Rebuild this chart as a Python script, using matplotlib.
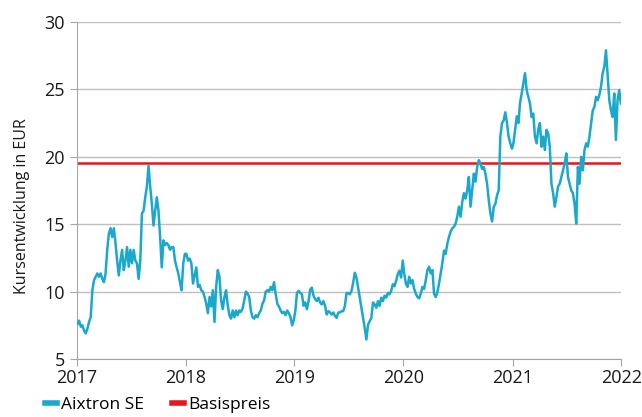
import matplotlib
matplotlib.use("Agg")
import matplotlib.pyplot as plt
import matplotlib.dates as mdates
import numpy as np
import pandas as pd

# Aixtron SE closing prices (EUR), evenly spaced within each year
kurs_2017 = [7.6, 7.85, 7.4, 7.5, 7.1, 6.9, 7.25, 7.75, 8.1, 10.1,
             10.85, 11.1, 11.35, 11.1, 11.35, 10.95, 10.7, 11.35, 13.1, 14.3,
             14.7, 14.05, 14.7, 13.6, 12.3, 11.2, 12.3, 13.1, 11.6, 12.3,
             13.3, 11.85, 13.1, 12.1, 13.1, 12.3, 12.1, 10.95, 12.3, 15.8,
             16.0, 17.0, 17.8, 19.35, 17.8, 16.5, 14.9, 16.0, 17.0, 16.0,
             14.05, 11.8, 13.8, 13.45, 13.6, 13.45, 13.1, 13.3, 13.3, 12.3,
             11.8, 11.35, 10.7, 10.1, 12.1, 12.8]
kurs_2018 = [12.8, 12.3, 12.45, 12.1, 10.6, 11.2, 11.8, 10.35, 10.5, 10.1,
             10.0, 9.6, 9.1, 8.4, 9.6, 8.9, 10.1, 7.75, 10.35, 11.6,
             11.1, 9.35, 8.7, 9.6, 10.1, 9.0, 8.25, 8.0, 8.6, 8.1,
             8.6, 8.25, 8.6, 8.5, 8.75, 9.35, 10.0, 9.85, 9.6, 8.6,
             8.1, 8.0, 8.25, 8.1, 8.4, 8.6, 9.1, 9.35, 10.0, 10.1,
             10.0, 10.35, 10.1, 10.7, 9.85, 9.1, 8.9, 8.6, 8.4, 8.5,
             8.25, 8.6, 8.4, 8.1, 7.5, 7.9]
kurs_2019 = [8.55, 9.9, 10.05, 9.9, 9.8, 8.95, 9.2, 8.7, 9.3, 10.15,
             10.3, 9.7, 9.45, 9.3, 9.55, 9.2, 9.05, 9.3, 8.95, 8.3,
             8.55, 8.45, 8.3, 8.45, 8.2, 8.05, 8.45, 8.45, 8.55, 8.55,
             8.95, 9.9, 9.9, 9.8, 10.05, 10.65, 11.4, 11.05, 10.3, 9.55,
             8.8, 8.05, 7.3, 6.45, 7.55, 7.8, 8.05, 9.2, 9.05, 8.8,
             9.3, 8.95, 9.55, 9.3, 9.7, 9.55, 9.9, 9.8, 10.05, 10.55,
             10.4, 10.8, 11.3, 11.55, 11.05, 12.3]
kurs_2020 = [11.35, 10.6, 10.35, 11.1, 10.6, 10.85, 10.2, 9.85, 9.6, 9.5,
             9.85, 10.35, 10.2, 10.85, 11.6, 11.85, 11.35, 11.6, 9.85, 9.6,
             9.95, 10.6, 11.35, 12.1, 13.05, 12.8, 13.55, 14.05, 14.45, 14.7,
             14.8, 15.05, 15.55, 16.3, 15.55, 16.65, 17.3, 16.9, 17.5, 18.5,
             16.3, 17.5, 18.75, 18.15, 19.25, 19.75, 19.5, 19.1, 19.25, 18.75,
             18.0, 16.8, 15.8, 15.2, 16.3, 16.5, 17.15, 17.5, 21.5, 22.5,
             22.7, 23.3, 22.5, 21.5, 21.0, 20.6]
kurs_2021 = [21.0, 22.0, 23.0, 22.5, 24.0, 24.7, 25.45, 26.2, 24.95, 24.45,
             23.95, 22.95, 23.2, 21.5, 21.0, 22.0, 22.5, 20.75, 21.5, 20.5,
             22.0, 21.75, 20.75, 18.0, 17.3, 16.3, 17.0, 17.8, 18.0, 18.5,
             19.0, 19.5, 20.25, 18.5, 18.0, 17.5, 17.3, 16.5, 15.05, 19.25,
             18.0, 20.0, 19.0, 20.5, 21.0, 20.75, 21.5, 22.5, 23.45, 23.7,
             24.45, 24.2, 24.6, 25.2, 26.2, 26.7, 27.9, 26.0, 24.2, 23.45,
             22.95, 24.7, 21.25, 24.2, 24.95, 23.95]
jahre = [2017, 2018, 2019, 2020, 2021]
basispreis = 19.55

kurse = [kurs_2017, kurs_2018, kurs_2019, kurs_2020, kurs_2021]
dates = []
values = []
for jahr, k in zip(jahre, kurse):
    dates.extend(pd.date_range(f"{jahr}-01-04", f"{jahr}-12-30", periods=len(k)))
    values.extend(k)

plt.rcParams['font.family'] = ['Open Sans', 'DejaVu Sans']

fig = plt.figure(figsize=(6.42, 4.17), dpi=100)
ax = fig.add_axes([0.1193, 0.139, 0.8487, 0.8083])

ax.plot(dates, values, color='#1aa9cc', lw=1.8, label='Aixtron SE', zorder=3)
ax.axhline(basispreis, color='#e8141e', lw=1.8, label='Basispreis', zorder=2)

ax.set_xlim(pd.Timestamp('2017-01-01'), pd.Timestamp('2022-01-01'))
ax.set_ylim(5, 30)
ax.set_yticks([5, 10, 15, 20, 25, 30])
ax.xaxis.set_major_locator(mdates.YearLocator())
ax.xaxis.set_major_formatter(mdates.DateFormatter('%Y'))

ax.grid(axis='y', color='#c0c0c0', lw=1.0)
ax.set_axisbelow(True)
for s in ['top', 'right']:
    ax.spines[s].set_visible(False)
for s in ['left', 'bottom']:
    ax.spines[s].set_color('#a6a6a6')
ax.tick_params(colors='#a6a6a6', labelcolor='#1a1a1a', labelsize=13, length=5)
ax.tick_params(axis='x', pad=2)

ax.set_ylabel('Kursentwicklung in EUR', fontsize=11.5, color='#1a1a1a')
ax.yaxis.set_label_coords(-0.085, 0.455)

fig.legend(loc='lower left', bbox_to_anchor=(0.045, -0.028), ncol=2, frameon=False,
           fontsize=12.5, handlelength=0.7, handletextpad=0.25, columnspacing=1.6)
for line in fig.legends[0].get_lines():
    line.set_linewidth(4)

fig.savefig('out.png', dpi=100)
